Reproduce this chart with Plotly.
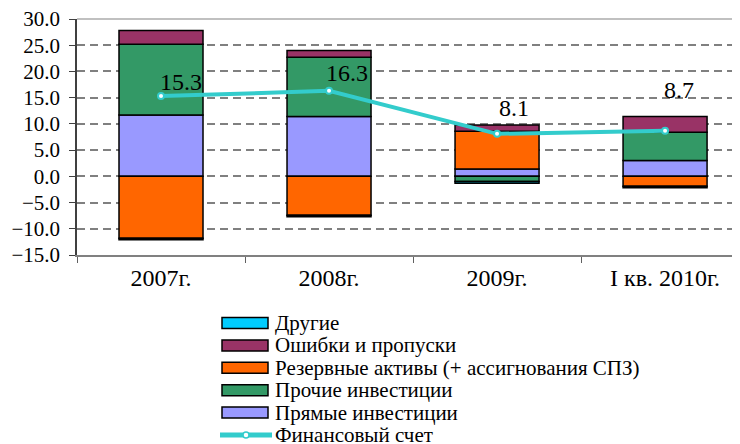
import plotly.graph_objects as go

# categories and series (bn USD)
years = ['2007г.', '2008г.', '2009г.', 'I кв. 2010г.']

direct_inv = [11.7, 11.4, 1.4, 3.0]
other_inv = [13.5, 11.3, -1.0, 5.4]
reserves = [-11.8, -7.4, 7.2, -1.9]
errors = [2.6, 1.3, 1.2, 3.0]
others = [-0.3, -0.3, -0.3, -0.3]
fin_account = [15.3, 16.3, 8.1, 8.7]

names = ['Прямые инвестиции', 'Прочие инвестиции',
         'Резервные активы (+ ассигнования СПЗ)', 'Ошибки и пропуски', 'Другие']
colors = ['#9999FF', '#339966', '#FF6600', '#993366', '#00CCFF']
line_name = 'Финансовый счет'
line_color = '#33CCCC'

# the value labels were placed by hand in the original, nudge them the same way (px)
label_dx = [-3, -5, 0, -3]
label_dy = [-1, 3, 11, 26]

FONT = 'Times New Roman, Liberation Serif, serif'

# the page body adds an 8px margin, so the figure is drawn 8px smaller
OFF = 8
W, H = 740 - OFF, 444 - OFF
# plot area in figure pixels
L, R, T, B = 77 - OFF, 740 - OFF, 19 - OFF, 255 - OFF


def px_x(p):
    return (p - OFF - L) / (R - L)


def px_y(p):
    return (B - (p - OFF)) / (B - T)


fig = go.Figure()
for name, vals, col in zip(names, [direct_inv, other_inv, reserves, errors, others], colors):
    fig.add_trace(go.Bar(x=years, y=vals, name=name, marker_color=col,
                         marker_line=dict(color='black', width=1.5), showlegend=False))

fig.add_trace(go.Scatter(x=years, y=fin_account, name=line_name, mode='lines+markers',
                         line=dict(color=line_color, width=4),
                         marker=dict(size=6, color='white', line=dict(color=line_color, width=2)),
                         showlegend=False))

annotations = []
# value labels of the line
for yr, v, dx, dy in zip(years, fin_account, label_dx, label_dy):
    annotations.append(dict(x=yr, y=v, xref='x', yref='y', text=f'{v:.1f}', showarrow=False,
                            xanchor='left', yanchor='bottom', xshift=dx, yshift=dy,
                            font=dict(family=FONT, size=24, color='black')))

# legend drawn by hand: wide swatches like the original
shapes = []
legend_items = list(zip(names, colors))[::-1]
row0, step = 323, 22.4
for i, (name, col) in enumerate(legend_items):
    yc = row0 + step * i
    shapes.append(dict(type='rect', xref='paper', yref='paper',
                       x0=px_x(222), x1=px_x(268), y0=px_y(yc + 5.5), y1=px_y(yc - 5.5),
                       fillcolor=col, line=dict(color='black', width=1.5)))
    annotations.append(dict(x=px_x(274), y=px_y(yc), xref='paper', yref='paper', text=name,
                            showarrow=False, xanchor='left', yanchor='middle', borderpad=0,
                            font=dict(family=FONT, size=21, color='black')))
yc = row0 + step * len(legend_items)
shapes.append(dict(type='line', xref='paper', yref='paper', x0=px_x(220), x1=px_x(272),
                   y0=px_y(yc), y1=px_y(yc), line=dict(color=line_color, width=5)))
shapes.append(dict(type='circle', xref='paper', yref='paper',
                   x0=px_x(243), x1=px_x(249), y0=px_y(yc + 3), y1=px_y(yc - 3),
                   fillcolor='white', line=dict(color=line_color, width=1.5)))
annotations.append(dict(x=px_x(274), y=px_y(yc), xref='paper', yref='paper', text=line_name,
                        showarrow=False, xanchor='left', yanchor='middle', borderpad=0,
                        font=dict(family=FONT, size=21, color='black')))

# light grey top border of the plot area
shapes.append(dict(type='line', xref='paper', yref='paper', x0=0, x1=1, y0=1, y1=1,
                   line=dict(color='#C0C0C0', width=2)))

fig.update_layout(
    width=W, height=H,
    margin=dict(l=L, r=W - R, t=T, b=H - B, pad=0),
    barmode='relative', bargap=0.5,
    paper_bgcolor='white', plot_bgcolor='white',
    font=dict(family=FONT, color='black'),
    shapes=shapes, annotations=annotations,
)
fig.update_xaxes(range=[-0.5, 3.446], tickson='boundaries', ticks='outside', ticklen=6,
                 tickcolor='#606060', showline=True, linecolor='#808080', linewidth=2,
                 showgrid=False, tickfont=dict(family=FONT, size=24), automargin=False)
fig.update_yaxes(range=[-15, 30], dtick=5, tickformat='.1f', ticks='outside', ticklen=6,
                 tickcolor='#404040', showline=True, linecolor='#404040', linewidth=1.5,
                 showgrid=True, gridcolor='#808080', gridwidth=1.5, griddash='8px,5px',
                 zeroline=False, tickfont=dict(family=FONT, size=21), ticklabelstandoff=5,
                 ticklabeloverflow='allow', automargin=False)

fig.write_html('out.html')
